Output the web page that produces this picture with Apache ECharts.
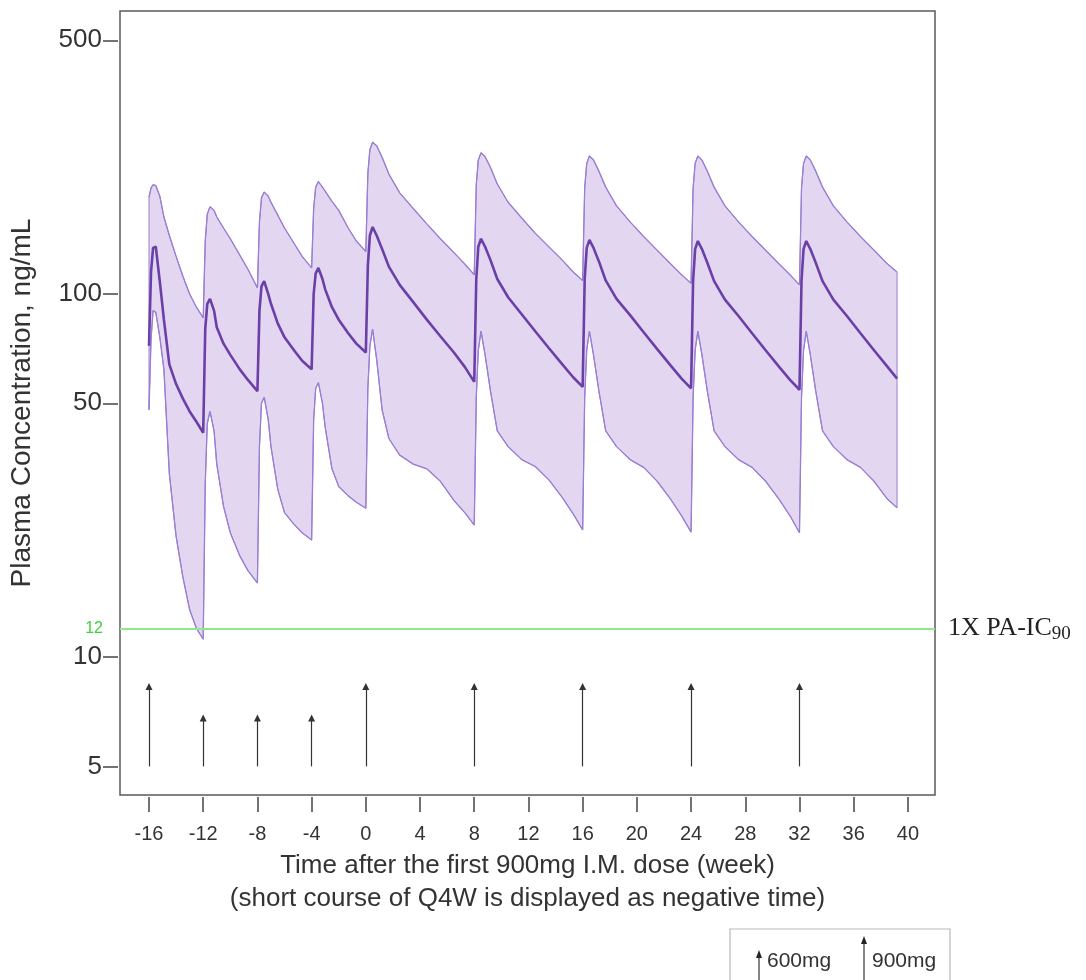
<!DOCTYPE html>
<html>
<head>
<meta charset="utf-8">
<script src="https://cdn.jsdelivr.net/npm/echarts@6/dist/echarts.min.js"></script>
<style>
html,body{margin:0;padding:0;background:#fff;}
#chart{width:1086px;height:980px;}
</style>
</head>
<body>
<div id="chart"></div>
<script>
// ---- data (weeks, ng/mL) ----
const times = [
  -16, -15.85, -15.7, -15.5, -15.2, -14.9, -14.5, -14, -13.5, -13, -12.5, -12,
  -11.85, -11.7, -11.5, -11.2, -11, -10.5, -10, -9.3, -8.7, -8,
  -7.85, -7.7, -7.5, -7.2, -7, -6.5, -6, -5.3, -4.7, -4,
  -3.85, -3.7, -3.5, -3.2, -3, -2.5, -2, -1.3, -0.7, 0,
  0.15, 0.3, 0.5, 0.8, 1.2, 1.7, 2.5, 3.5, 4.5, 5.5, 6.5, 7.3, 8,
  8.15, 8.3, 8.5, 8.8, 9.2, 9.7, 10.5, 11.5, 12.5, 13.5, 14.5, 15.3, 16,
  16.15, 16.3, 16.5, 16.8, 17.2, 17.7, 18.5, 19.5, 20.5, 21.5, 22.5, 23.3, 24,
  24.15, 24.3, 24.5, 24.8, 25.2, 25.7, 26.5, 27.5, 28.5, 29.5, 30.5, 31.3, 32,
  32.15, 32.3, 32.5, 32.8, 33.2, 33.7, 34.5, 35.5, 36.5, 37.5, 38.5, 39.2
];
const upper = [
  185, 196, 200, 199, 186, 163, 145, 127, 112, 100, 92, 86,
  140, 166, 174, 170, 163, 152, 142, 128, 117, 104,
  158, 184, 191, 186, 179, 165, 152, 138, 127, 118,
  172, 197, 204, 197, 192, 180, 170, 152, 140, 131,
  215, 250, 262, 256, 238, 214, 190, 172, 156, 142, 130, 121, 113,
  200, 234, 245, 239, 223, 201, 179, 162, 147, 135, 124, 115, 109,
  196, 229, 240, 234, 218, 197, 175, 158, 144, 132, 121, 113, 107,
  196, 229, 240, 234, 218, 197, 175, 158, 144, 132, 121, 113, 106,
  196, 229, 240, 234, 218, 197, 175, 158, 144, 132, 121, 115
];
const median = [
  72, 115, 134, 135, 108, 85, 64, 56.5, 51.5, 47.5, 44.5, 41.5,
  80, 94, 97, 90, 81, 73, 68, 62, 58, 54,
  90, 105, 108.5, 100, 94, 83, 76, 70, 65.5, 62,
  100, 114, 118, 110, 103, 92, 85, 78, 73, 69,
  120, 145, 153, 145, 133, 119, 106, 95, 85, 76.5, 69, 63, 57.3,
  110, 135, 142, 135, 124, 110, 98, 88, 79, 71, 64, 59, 55.5,
  110, 134, 141, 134, 123, 109, 97, 87.5, 78.5, 70.5, 63.5, 58.5, 55,
  109, 133, 140, 133, 122, 108.5, 96.5, 87, 78, 70, 63, 58, 54.5,
  109, 133, 140, 133, 122, 108.5, 96.5, 87, 78, 70, 63, 58.5
];
const lower = [
  48, 75, 90, 89, 76, 62, 32, 21.5, 16.6, 13.5, 12, 11.2,
  30, 44, 47.5, 42, 34, 26, 22, 19, 17.3, 16,
  38, 50, 52, 45, 38, 29, 25, 23.2, 22, 21,
  45, 55, 57, 50, 43, 33, 29.5, 27.8, 26.7, 25.7,
  55, 72, 80, 66, 48, 40, 36, 34, 33, 30.5, 27, 25, 23.1,
  52, 70, 79, 68, 54, 42, 38, 35, 33.5, 30.8, 27.5, 24.8, 22.4,
  52, 70, 79, 68, 54, 42, 38, 35, 33.3, 30.5, 27.2, 24.5, 22.1,
  52, 70, 79, 68, 54, 42, 38, 35, 33.3, 30.5, 27.2, 24.5, 22,
  52, 70, 79, 68, 54, 42, 38, 35, 33.3, 30.5, 27.2, 25.8
];
const doseTimes = [-16, -12, -8, -4, 0, 8, 16, 24, 32];
const doseMg = [900, 600, 600, 600, 900, 900, 900, 900, 900];
const arrowTop = {600: 6.8, 900: 8.3};
const arrowBase = 5;
const ic90 = 12;
const xTicks = [-16, -12, -8, -4, 0, 4, 8, 12, 16, 20, 24, 28, 32, 36, 40];
const yTicks = [5, 10, 50, 100, 500];
const xMin = -18.14, xMax = 42.0;
const yMin = 4.17, yMax = 602;

// ---- styling ----
const FONT = 'Liberation Sans, Arial, sans-serif';
const SERIF = 'Liberation Serif, Times New Roman, serif';
const C_FILL = '#e3d6f0';
const C_EDGE = '#9a7fd2';
const C_MED = '#6b3fa8';
const C_TEXT = '#333';

const chart = echarts.init(document.getElementById('chart'), null, {renderer: 'canvas'});

const bandData = times.map((t, i) => [t, lower[i], upper[i]]);

const option = {
  animation: false,
  textStyle: {fontFamily: FONT},
  grid: {left: 120, right: 151, top: 11, bottom: 185, show: true,
         borderColor: '#5a5a5a', borderWidth: 1.5, backgroundColor: 'transparent'},
  xAxis: {
    type: 'value', min: xMin, max: xMax, offset: 2,
    axisLine: {show: false},
    splitLine: {show: false},
    axisTick: {show: true, length: 15, customValues: xTicks, lineStyle: {color: '#444', width: 1.5}},
    axisLabel: {customValues: xTicks, margin: 27, fontSize: 20, color: C_TEXT, fontFamily: FONT},
    name: 'Time after the first 900mg I.M. dose (week)\n(short course of Q4W is displayed as negative time)',
    nameLocation: 'middle', nameGap: 46,
    nameTextStyle: {fontSize: 26, lineHeight: 33, color: C_TEXT, fontFamily: FONT}
  },
  yAxis: [
    {
      type: 'log', logBase: 10, min: yMin, max: yMax,
      axisLine: {show: false}, axisTick: {show: false}, axisLabel: {show: false},
      splitLine: {show: false},
      name: 'Plasma Concentration, ng/mL', nameLocation: 'middle', nameGap: 84, nameRotate: 90,
      nameTextStyle: {fontSize: 28, color: C_TEXT, fontFamily: FONT}
    },
    {
      type: 'value', position: 'left', offset: 2,
      min: Math.log10(yMin), max: Math.log10(yMax),
      axisLine: {show: false}, splitLine: {show: false},
      axisTick: {show: true, length: 15, customValues: yTicks.map(v => Math.log10(v)),
                 lineStyle: {color: '#444', width: 1.5}},
      axisLabel: {customValues: yTicks.map(v => Math.log10(v)), margin: 16, fontSize: 26,
                  color: C_TEXT, fontFamily: FONT,
                  formatter: v => String(Math.round(Math.pow(10, v)))}
    }
  ],
  graphic: [
    {type: 'rect', shape: {x: 730, y: 929, width: 220, height: 80},
     style: {fill: 'none', stroke: '#b8b8b8', lineWidth: 1.2}, silent: true},
    {type: 'line', shape: {x1: 759, y1: 956, x2: 759, y2: 990},
     style: {stroke: '#333', lineWidth: 1.2}, silent: true},
    {type: 'polygon', shape: {points: [[756, 958], [762, 958], [759, 950]]},
     style: {fill: '#222'}, silent: true},
    {type: 'text', x: 767, y: 961, silent: true,
     style: {text: '600mg', fontSize: 21, fill: C_TEXT, fontFamily: FONT, verticalAlign: 'middle'}},
    {type: 'line', shape: {x1: 864, y1: 942, x2: 864, y2: 990},
     style: {stroke: '#333', lineWidth: 1.2}, silent: true},
    {type: 'polygon', shape: {points: [[861, 944], [867, 944], [864, 936]]},
     style: {fill: '#222'}, silent: true},
    {type: 'text', x: 872, y: 961, silent: true,
     style: {text: '900mg', fontSize: 21, fill: C_TEXT, fontFamily: FONT, verticalAlign: 'middle'}}
  ],
  series: [
    {
      type: 'custom', name: 'band', xAxisIndex: 0, yAxisIndex: 0,
      data: bandData, encode: {x: 0, y: [1, 2]}, silent: true, z: 1,
      renderItem: function (params, api) {
        if (params.dataIndex !== 0) return null;
        const pts = [];
        for (let i = 0; i < times.length; i++) pts.push(api.coord([times[i], upper[i]]));
        for (let i = times.length - 1; i >= 0; i--) pts.push(api.coord([times[i], lower[i]]));
        return {type: 'polygon', shape: {points: pts},
                style: {fill: C_FILL, stroke: C_EDGE, lineWidth: 1}};
      }
    },
    {
      type: 'line', name: 'upper', yAxisIndex: 0, z: 3,
      data: times.map((t, i) => [t, upper[i]]),
      showSymbol: false, symbol: 'none', lineStyle: {color: C_EDGE, width: 1.3}, silent: true,
      markLine: {
        silent: true, symbol: ['none', 'none'], animation: false,
        lineStyle: {color: '#8fe88f', width: 2, type: 'solid'},
        data: [
          {yAxis: ic90, label: {show: true, position: 'start', distance: 17, formatter: '12',
                                color: '#3fd03f', fontSize: 16, fontFamily: FONT}},
          {yAxis: ic90, label: {show: true, position: 'end', distance: 13,
                                formatter: '{m|1X PA-IC}{s|90}',
                                rich: {
                                  m: {fontSize: 26, fontFamily: SERIF, color: '#222', lineHeight: 30, verticalAlign: 'middle'},
                                  s: {fontSize: 19, fontFamily: SERIF, color: '#222', lineHeight: 30, verticalAlign: 'bottom', padding: [12, 0, 0, 0]}
                                }}}
        ]
      }
    },
    {
      type: 'line', name: 'lower', yAxisIndex: 0, z: 3,
      data: times.map((t, i) => [t, lower[i]]),
      showSymbol: false, symbol: 'none', lineStyle: {color: C_EDGE, width: 1.3}, silent: true,
      markLine: {
        silent: true, animation: false,
        symbol: ['none', 'triangle'], symbolSize: 7,
        lineStyle: {color: '#333', width: 1.2, type: 'solid'},
        itemStyle: {color: '#222'},
        label: {show: false},
        data: doseTimes.map((t, i) => [
          {coord: [t, arrowBase]},
          {coord: [t, arrowTop[doseMg[i]]]}
        ])
      }
    },
    {
      type: 'line', name: 'median', yAxisIndex: 0, z: 4,
      data: times.map((t, i) => [t, median[i]]),
      showSymbol: false, symbol: 'none', lineStyle: {color: C_MED, width: 2.6}, silent: true
    }
  ]
};
chart.setOption(option);
</script>
</body>
</html>
